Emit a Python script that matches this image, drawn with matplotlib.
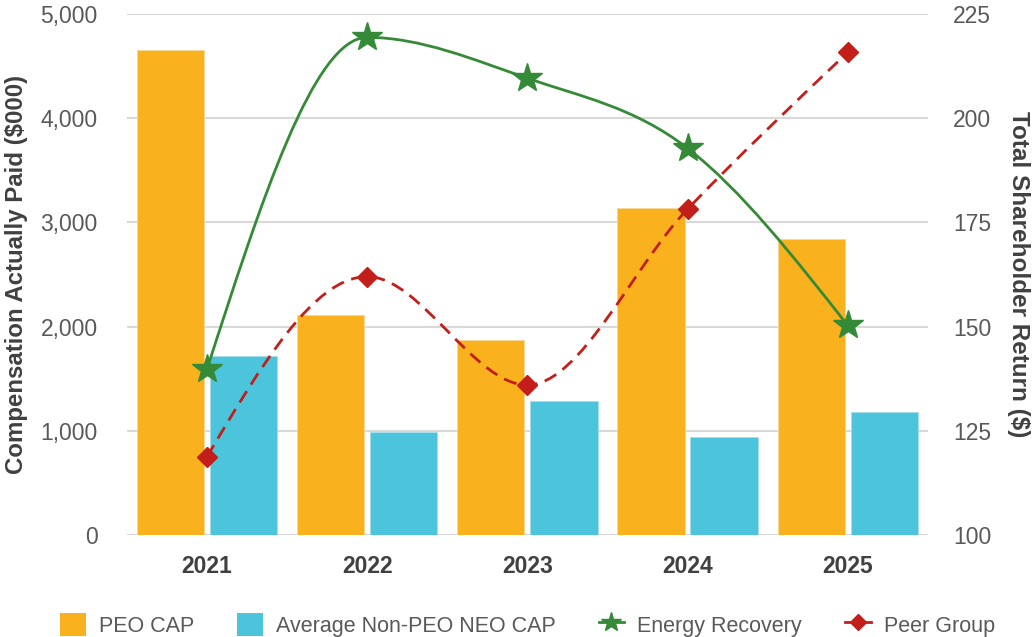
import numpy as np
import matplotlib
matplotlib.use("Agg")
import matplotlib.pyplot as plt
from matplotlib.path import Path
from matplotlib.patches import PathPatch, Patch
from matplotlib.lines import Line2D

plt.rcParams["font.family"] = ["Liberation Sans", "DejaVu Sans"]

# data
years = ["2021", "2022", "2023", "2024", "2025"]
peo_cap = [4650, 2110, 1870, 3140, 2840]
avg_neo_cap = [1715, 990, 1285, 940, 1180]
energy_recovery = [139.8, 219.4, 209.6, 192.8, 150.3]
peer_group = [118.8, 162.0, 136.0, 178.2, 215.8]

ORANGE = "#F9B21D"
CYAN = "#4CC4DC"
GREEN = "#358A37"
RED = "#C21F1A"
GRID = "#D9D9D9"
TXT = "#595959"
DARK = "#404040"


def monotone_path(x, y):
    """Smooth monotone cubic curve through the points (d3 monotoneX style)."""
    x = np.asarray(x, float)
    y = np.asarray(y, float)
    n = len(x)
    h = np.diff(x)
    s = np.diff(y) / h
    t = np.zeros(n)
    for i in range(1, n - 1):
        p = (s[i - 1] * h[i] + s[i] * h[i - 1]) / (h[i - 1] + h[i])
        t[i] = (np.sign(s[i - 1]) + np.sign(s[i])) * min(abs(s[i - 1]), abs(s[i]), 0.5 * abs(p))
    t[0] = (3 * s[0] - t[1]) / 2
    t[-1] = (3 * s[-1] - t[-2]) / 2
    verts = [(x[0], y[0])]
    codes = [Path.MOVETO]
    for i in range(n - 1):
        dx = h[i] / 3
        verts += [(x[i] + dx, y[i] + dx * t[i]),
                  (x[i + 1] - dx, y[i + 1] - dx * t[i + 1]),
                  (x[i + 1], y[i + 1])]
        codes += [Path.CURVE4] * 3
    return Path(verts, codes)


fig = plt.figure(figsize=(10.32, 6.37), dpi=100)
ax = fig.add_axes([0.123, 0.160, 0.776, 0.818])
ax2 = ax.twinx()

x = np.arange(len(years))
w = 0.42
ax.bar(x - 0.228, peo_cap, w, color=ORANGE, edgecolor="#F5D79A", linewidth=0.6, zorder=2)
ax.bar(x + 0.228, avg_neo_cap, w, color=CYAN, edgecolor="#A8DDE8", linewidth=0.6, zorder=2)

ax.set_xlim(-0.5, 4.5)
ax.set_ylim(0, 5000)
ax.set_yticks(range(0, 5001, 1000))
ax.set_yticklabels([f"{v:,}" for v in range(0, 5001, 1000)])
ax.set_xticks(x)
ax.set_xticklabels(years, fontsize=16.5, fontweight="bold", color=DARK)
ax.grid(axis="y", color=GRID, linewidth=1.5, zorder=0)
ax.set_axisbelow(True)
ax.tick_params(axis="y", labelsize=16.5, labelcolor=TXT, length=0, pad=21)
ax.tick_params(axis="x", length=0, pad=14)
ax.set_ylabel("Compensation Actually Paid ($000)", fontsize=17.3, fontweight="bold",
              color=DARK)
ax.yaxis.set_label_coords(-0.124, 0.5)

ax2.set_ylim(100, 225)
ax2.set_yticks(range(100, 226, 25))
ax2.tick_params(axis="y", labelsize=16.5, labelcolor=TXT, length=0, pad=18)
ax2.set_ylabel("Total Shareholder Return ($)", fontsize=17.5, fontweight="bold",
               color=DARK, rotation=270, labelpad=28)

for a in (ax, ax2):
    for sp in a.spines.values():
        sp.set_visible(False)

ax2.add_patch(PathPatch(monotone_path(x, energy_recovery), fill=False,
                        edgecolor=GREEN, linewidth=2.0, zorder=3))
ax2.add_patch(PathPatch(monotone_path(x, peer_group), fill=False,
                        edgecolor=RED, linewidth=2.0, linestyle=(0, (4.8, 2.8)), zorder=3))
ax2.plot(x, energy_recovery, linestyle="none", marker="*", markersize=22,
         color=GREEN, zorder=4)
ax2.plot(x, peer_group, linestyle="none", marker="D", markersize=10,
         color=RED, zorder=4)

handles = [
    Patch(facecolor=ORANGE, label="PEO CAP"),
    Patch(facecolor=CYAN, label="Average Non-PEO NEO CAP"),
    Line2D([], [], color=GREEN, linewidth=2.0, marker="*", markersize=15, label="Energy Recovery"),
    Line2D([], [], color=RED, linewidth=2.0, marker="D", markersize=8, label="Peer Group"),
]
leg = fig.legend(handles=handles, loc="lower center", bbox_to_anchor=(0.511, -0.03),
                 ncol=4, frameon=False, fontsize=15.5, handlelength=1.2,
                 handleheight=1.3, handletextpad=0.6, columnspacing=2.0)
for t in leg.get_texts():
    t.set_color(TXT)

fig.savefig("out.png", dpi=100)
